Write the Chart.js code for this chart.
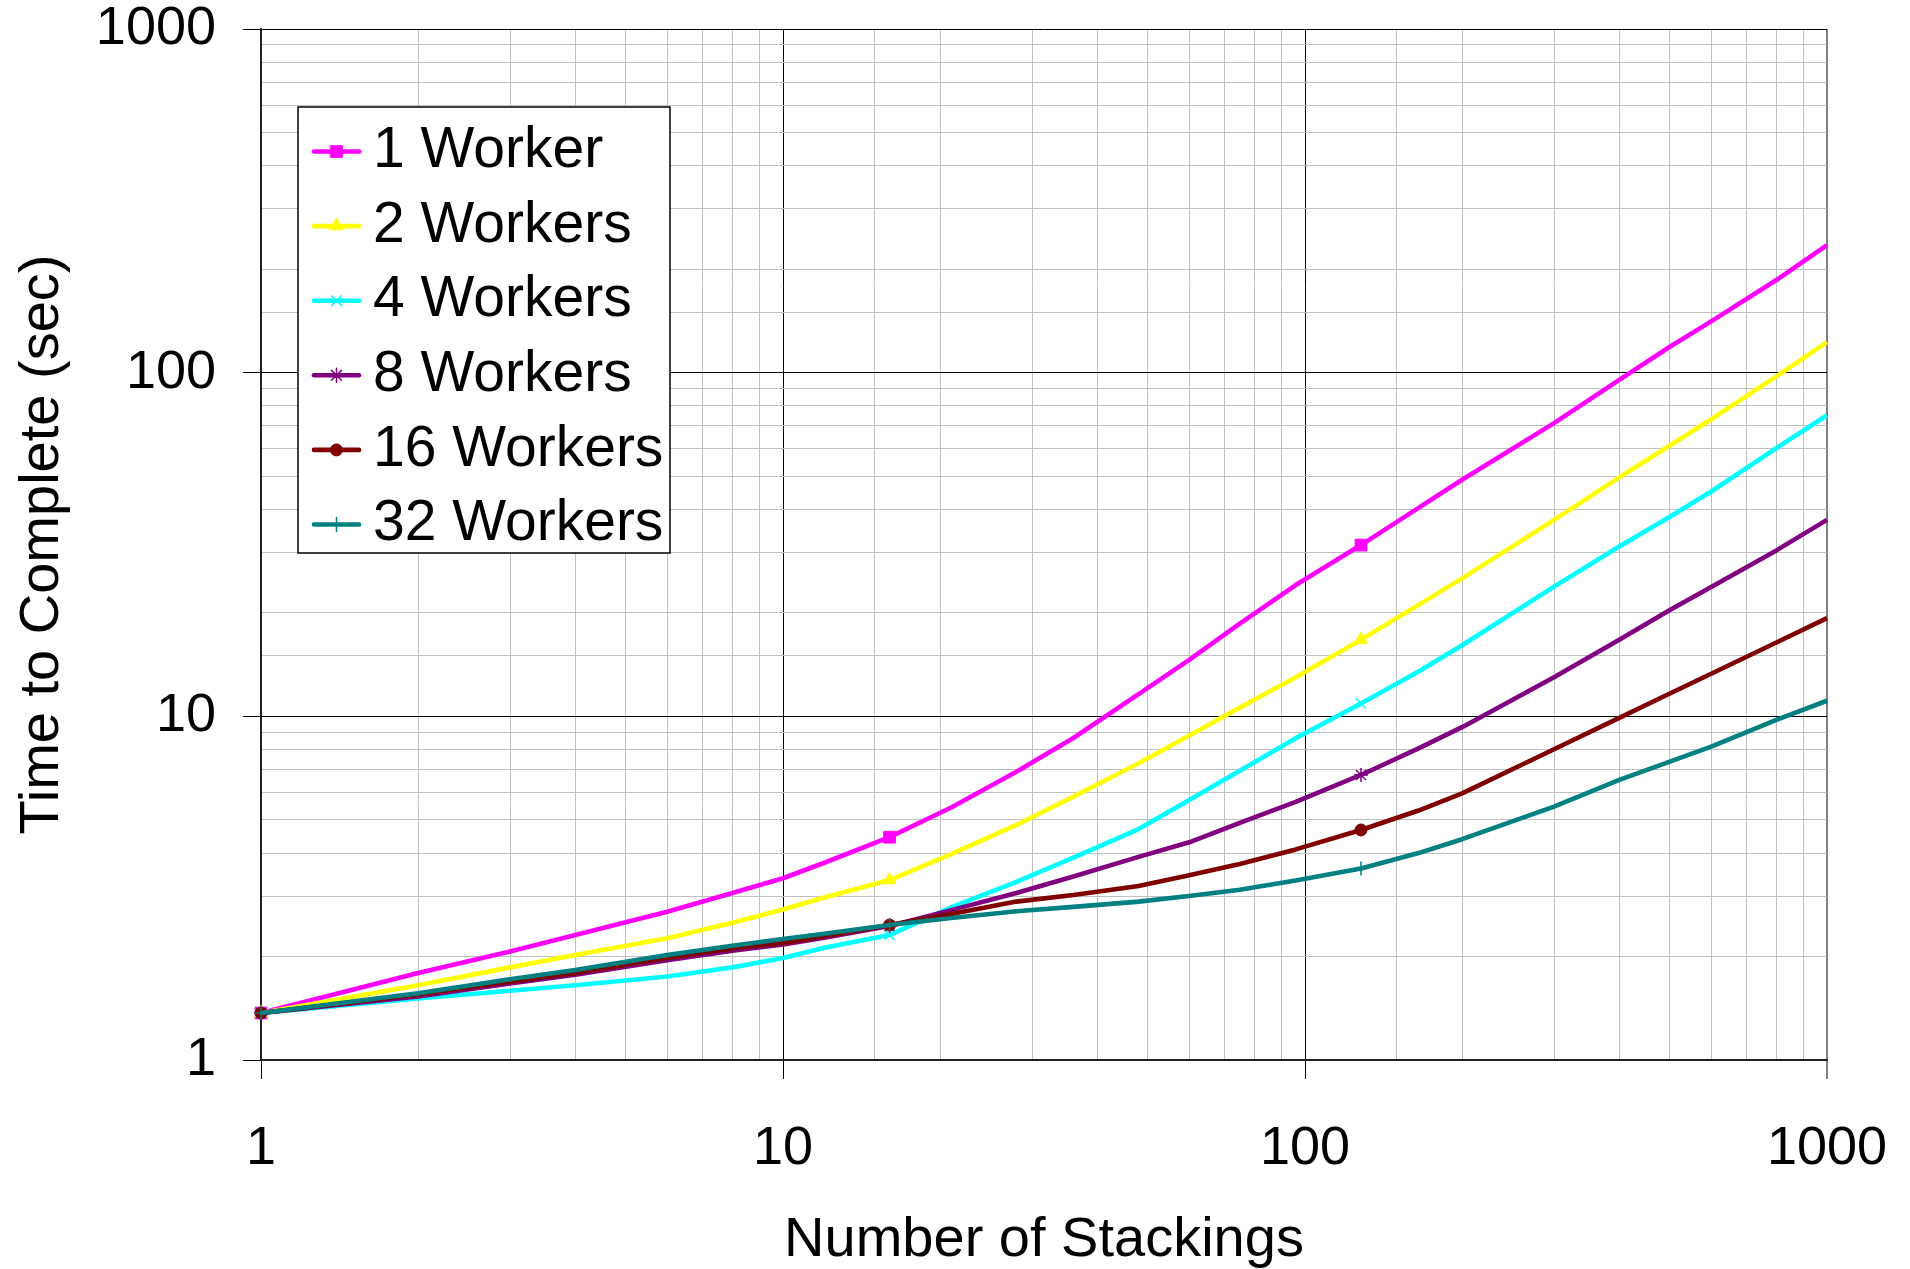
<!DOCTYPE html>
<html>
<head>
<meta charset="utf-8">
<title>Time to Complete vs Number of Stackings</title>
<script src="https://cdn.jsdelivr.net/npm/chart.js@4.4.0/dist/chart.umd.min.js"></script>
<style>
  html, body { margin: 0; padding: 0; background: #ffffff; }
  #chart { display: block; }
</style>
</head>
<body>
<canvas id="chart" width="1910" height="1269"></canvas>
<script>
// Number of stackings (x) and completion time in seconds per worker count
const stackings = [1, 2, 3, 4, 6, 8, 10, 12, 16, 21, 28, 36, 48, 60, 75, 96, 128, 165, 200, 300, 400, 500, 600, 800, 1000];
const oneWorker = [1.37, 1.79, 2.07, 2.31, 2.70, 3.06, 3.38, 3.75, 4.45, 5.43, 6.9, 8.65, 11.6, 14.6, 18.6, 24.1, 31.5, 40.4, 48.8, 71.3, 95.3, 119, 141, 186, 235];
const twoWorkers = [1.37, 1.65, 1.86, 2.02, 2.26, 2.51, 2.74, 2.97, 3.34, 3.97, 4.83, 5.84, 7.3, 8.8, 10.6, 13.0, 16.7, 21.1, 25.2, 37.3, 49.6, 61.4, 73.2, 97.5, 122.7];
const fourWorkers = [1.37, 1.51, 1.59, 1.65, 1.75, 1.86, 1.98, 2.12, 2.31, 2.78, 3.30, 3.88, 4.70, 5.71, 6.95, 8.64, 10.9, 13.5, 16.1, 23.85, 31.2, 38.1, 45.1, 60.3, 75.2];
const eightWorkers = [1.37, 1.53, 1.67, 1.77, 1.95, 2.08, 2.17, 2.27, 2.455, 2.73, 3.06, 3.42, 3.90, 4.30, 4.90, 5.64, 6.75, 8.07, 9.30, 13.0, 16.7, 20.4, 23.8, 30.4, 37.3];
const sixteenWorkers = [1.37, 1.55, 1.69, 1.79, 1.98, 2.11, 2.19, 2.29, 2.47, 2.66, 2.89, 3.02, 3.21, 3.45, 3.72, 4.10, 4.67, 5.32, 5.97, 8.02, 9.90, 11.65, 13.3, 16.4, 19.3];
const thirtyTwoWorkers = [1.37, 1.564, 1.717, 1.827, 2.02, 2.15, 2.25, 2.33, 2.47, 2.59, 2.71, 2.79, 2.89, 3.00, 3.13, 3.33, 3.61, 4.00, 4.39, 5.46, 6.53, 7.38, 8.16, 9.76, 11.1];

// Stacking counts that carry a marker
const markedStackings = [1, 16, 128];

const seriesLabels = ['1 Worker', '2 Workers', '4 Workers', '8 Workers', '16 Workers', '32 Workers'];
const seriesValues = [oneWorker, twoWorkers, fourWorkers, eightWorkers, sixteenWorkers, thirtyTwoWorkers];
const seriesStyles = [
  { color: '#FF00FF', point: 'rect',     radius: 8.3, pointBorder: 1 },
  { color: '#FFFF00', point: 'triangle', radius: 7.5, pointBorder: 1 },
  { color: '#00FFFF', point: 'crossRot', radius: 7,   pointBorder: 1.5 },
  { color: '#800080', point: 'star',     radius: 7,   pointBorder: 1.5 },
  { color: '#800000', point: 'circle',   radius: 6,   pointBorder: 1 },
  { color: '#008080', point: 'cross',    radius: 7,   pointBorder: 1.5 }
];

const FONT = '"Liberation Sans", Arial, Helvetica, sans-serif';

const datasets = seriesLabels.map((label, i) => {
  const st = seriesStyles[i];
  return {
    label: label,
    data: stackings.map((x, j) => ({ x: x, y: seriesValues[i][j] })),
    borderColor: st.color,
    backgroundColor: st.color,
    borderWidth: 4.6,
    borderJoinStyle: 'round',
    pointStyle: st.point,
    pointBackgroundColor: st.color,
    pointBorderColor: st.color,
    pointBorderWidth: st.pointBorder,
    pointRadius: ctx => markedStackings.includes(stackings[ctx.dataIndex]) ? st.radius : 0,
    pointHoverRadius: 0,
    tension: 0,
    fill: false,
    clip: false,
    order: seriesLabels.length - i
  };
});

const isDecade = v => Math.abs(Math.log10(v) - Math.round(Math.log10(v))) < 1e-9;

// Boxed legend drawn inside the plot area
const insetLegend = {
  id: 'insetLegend',
  afterDatasetsDraw(chart) {
    const ctx = chart.ctx;
    const box = { left: 298, top: 107, right: 670, bottom: 553 };
    const rowTop = 151.5, rowStep = 74.6;
    ctx.save();
    ctx.fillStyle = '#ffffff';
    ctx.fillRect(box.left, box.top, box.right - box.left, box.bottom - box.top);
    ctx.strokeStyle = '#000000';
    ctx.lineWidth = 1.5;
    ctx.strokeRect(box.left, box.top, box.right - box.left, box.bottom - box.top);
    chart.data.datasets.forEach((ds, i) => {
      const st = seriesStyles[i];
      const y = rowTop + i * rowStep;
      ctx.beginPath();
      ctx.strokeStyle = st.color;
      ctx.lineWidth = 4.6;
      ctx.lineCap = 'round';
      ctx.moveTo(314, y);
      ctx.lineTo(359, y);
      ctx.stroke();
      ctx.fillStyle = st.color;
      ctx.strokeStyle = st.color;
      ctx.lineWidth = st.pointBorder;
      Chart.helpers.drawPoint(ctx, { pointStyle: st.point, radius: st.radius, borderWidth: st.pointBorder, rotation: 0 }, 336.5, y);
      ctx.fillStyle = '#000000';
      ctx.font = '57px ' + FONT;
      ctx.textAlign = 'left';
      ctx.textBaseline = 'middle';
      ctx.fillText(ds.label, 373, y);
    });
    ctx.restore();
  }
};

new Chart(document.getElementById('chart'), {
  type: 'line',
  data: { datasets: datasets },
  options: {
    responsive: false,
    animation: false,
    devicePixelRatio: 1,
    layout: { padding: { top: 29, right: 83, left: 0, bottom: 0 } },
    plugins: {
      legend: { display: false },
      tooltip: { enabled: false }
    },
    events: [],
    scales: {
      x: {
        type: 'logarithmic',
        min: 1,
        max: 1000,
        afterFit(scale) {
          scale.height = 209;
          scale.paddingLeft = 0;
          scale.paddingRight = 0;
        },
        border: { display: true, color: '#222222', width: 2 },
        grid: {
          color: ctx => ctx.tick && ctx.tick.major ? (ctx.tick.value === 1000 ? '#808080' : '#000000') : '#c0c0c0',
          lineWidth: ctx => ctx.tick && ctx.tick.major && ctx.tick.value === 1000 ? 2 : 1,
          drawTicks: true,
          tickLength: 19,
          tickColor: ctx => ctx.tick && ctx.tick.major ? '#000000' : 'rgba(0,0,0,0)',
          tickWidth: 1
        },
        ticks: {
          autoSkip: false,
          maxRotation: 0,
          padding: 38,
          color: '#000000',
          font: { family: FONT, size: 54, lineHeight: 1.2 },
          callback: v => isDecade(v) ? String(Math.round(v)) : ''
        },
        title: {
          display: true,
          text: 'Number of Stackings',
          color: '#000000',
          font: { family: FONT, size: 56, lineHeight: 1.03 },
          padding: { top: 0, bottom: 0 }
        }
      },
      y: {
        type: 'logarithmic',
        min: 1,
        max: 1000,
        afterFit(scale) {
          scale.width = 261;
          scale.paddingTop = 0;
          scale.paddingBottom = 0;
        },
        border: { display: true, color: '#222222', width: 2 },
        grid: {
          color: ctx => ctx.tick && ctx.tick.major ? '#000000' : '#c0c0c0',
          lineWidth: 1,
          drawTicks: true,
          tickLength: 18,
          tickColor: ctx => ctx.tick && ctx.tick.major ? '#000000' : 'rgba(0,0,0,0)',
          tickWidth: 1
        },
        ticks: {
          autoSkip: false,
          padding: 27,
          color: '#000000',
          font: { family: FONT, size: 54, lineHeight: 1.0 },
          callback: v => isDecade(v) ? String(Math.round(v)) : ''
        },
        title: {
          display: true,
          text: 'Time to Complete (sec)',
          color: '#000000',
          font: { family: FONT, size: 56, lineHeight: 1.15 },
          padding: { top: 10, bottom: 0 }
        }
      }
    }
  },
  plugins: [insetLegend]
});
</script>
</body>
</html>
